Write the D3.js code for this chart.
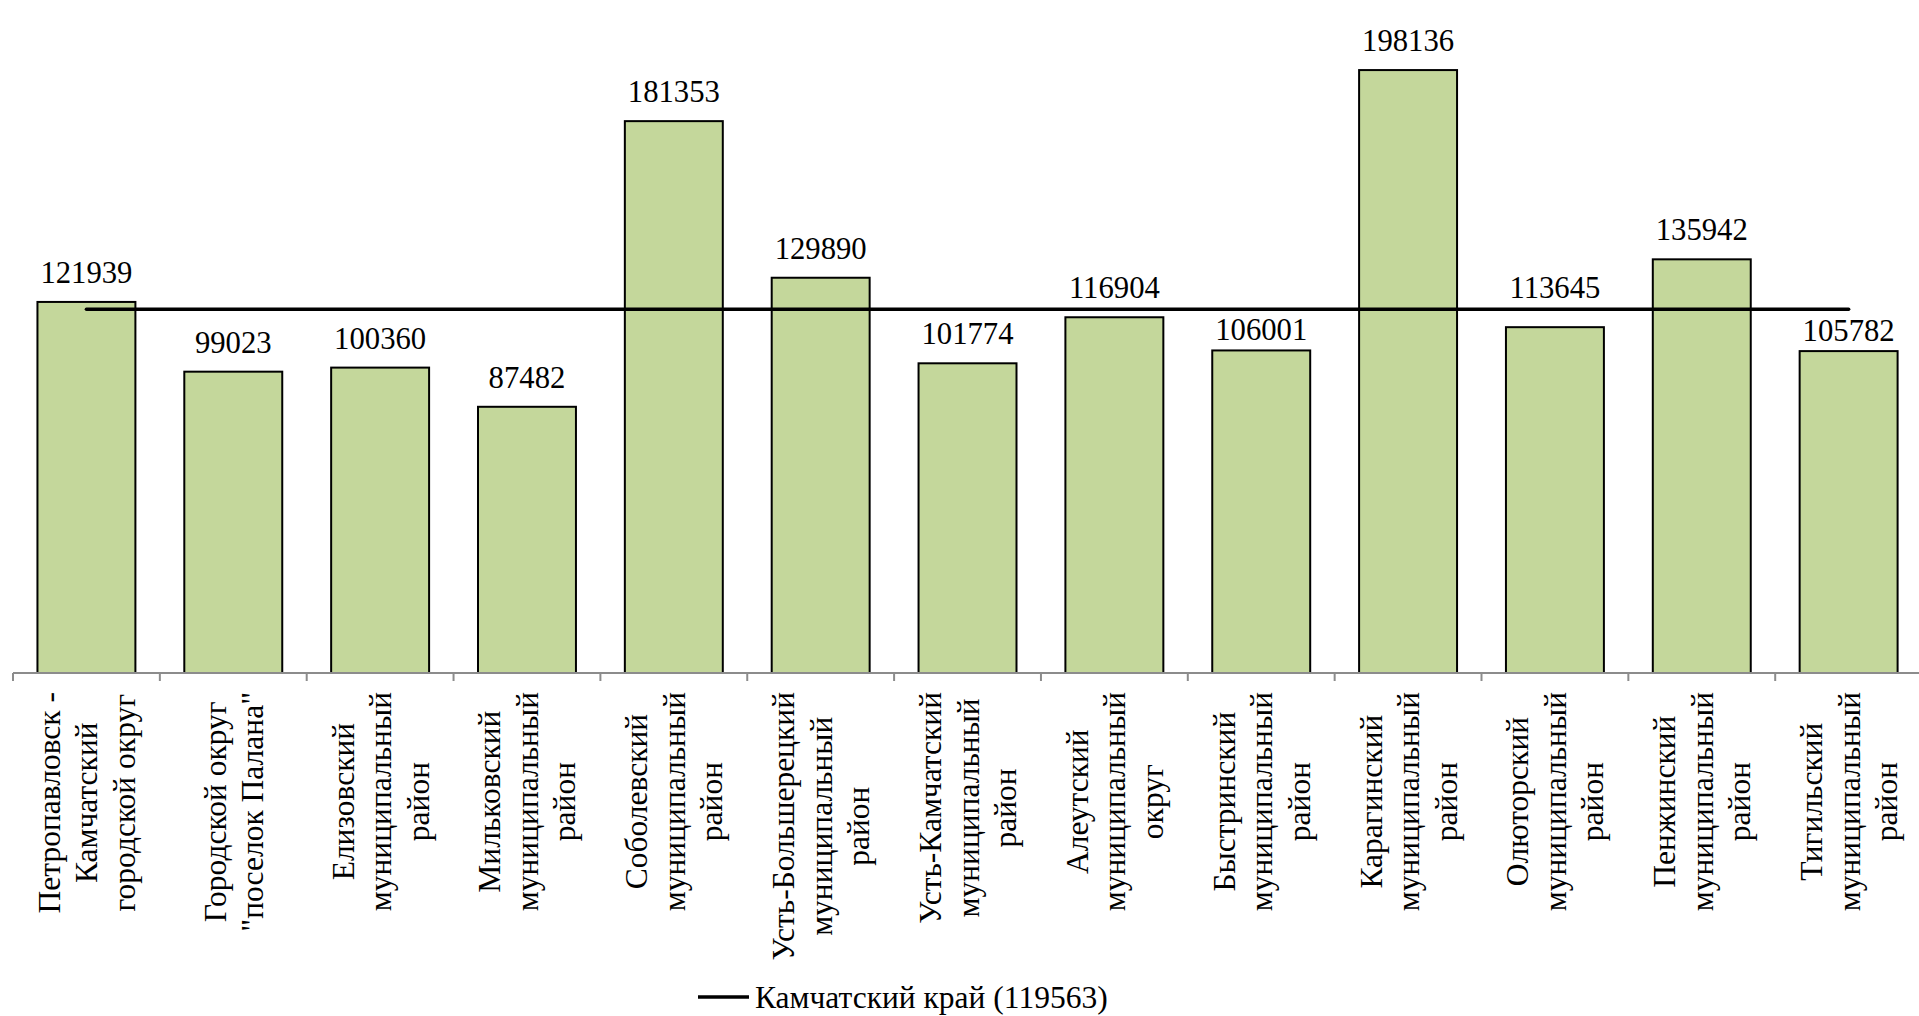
<!DOCTYPE html>
<html>
<head>
<meta charset="utf-8">
<script src="https://cdn.jsdelivr.net/npm/d3@7"></script>
<style>
  html, body { margin: 0; padding: 0; background: #fff; }
  svg { display: block; }
  text { font-family: "Liberation Serif", "Times New Roman", serif; fill: #000; }
</style>
</head>
<body>
<svg id="chart" width="1919" height="1016"></svg>
<script>
// ---- data ----
const categories = [
  ["Петропавловск -", "Камчатский", "городской округ"],
  ["Городской округ", "\"поселок Палана\""],
  ["Елизовский", "муниципальный", "район"],
  ["Мильковский", "муниципальный", "район"],
  ["Соболевский", "муниципальный", "район"],
  ["Усть-Большерецкий", "муниципальный", "район"],
  ["Усть-Камчатский", "муниципальный", "район"],
  ["Алеутский", "муниципальный", "округ"],
  ["Быстринский", "муниципальный", "район"],
  ["Карагинский", "муниципальный", "район"],
  ["Олюторский", "муниципальный", "район"],
  ["Пенжинский", "муниципальный", "район"],
  ["Тигильский", "муниципальный", "район"]
];
const values = [121939, 99023, 100360, 87482, 181353, 129890, 101774, 116904, 106001, 198136, 113645, 135942, 105782];
const regionName = "Камчатский край";
const regionValue = 119563;
const yDomain = [0, 200000];

// ---- layout ----
const svg = d3.select("#chart");
const axisY = 673;
const plotTop = 64.4;
const x0 = 13, step = 146.85;
const keys = categories.map((c, i) => i);

const x = d3.scaleBand()
  .domain(keys)
  .range([x0, x0 + step * keys.length])
  .paddingInner(0.333)
  .paddingOuter(0.1665);

const y = d3.scaleLinear().domain(yDomain).range([axisY, plotTop]);

// bars
svg.append("g").selectAll("rect")
  .data(values)
  .join("rect")
  .attr("x", (d, i) => x(i))
  .attr("y", d => y(d))
  .attr("width", x.bandwidth())
  .attr("height", d => y(0) - y(d))
  .attr("fill", "#c4d79b")
  .attr("stroke", "#000")
  .attr("stroke-width", 2);

// x axis line + ticks at band boundaries
const axisG = svg.append("g");
axisG.append("line")
  .attr("x1", x0).attr("x2", 1919)
  .attr("y1", axisY).attr("y2", axisY)
  .attr("stroke", "#8c8c8c").attr("stroke-width", 2);
const bounds = d3.range(keys.length + 1).map(i => x0 + i * x.step());
axisG.selectAll("line.tick")
  .data(bounds)
  .join("line")
  .attr("class", "tick")
  .attr("x1", d => d).attr("x2", d => d)
  .attr("y1", axisY).attr("y2", axisY + 8)
  .attr("stroke", "#8c8c8c").attr("stroke-width", 2);

// category labels (rotated, multi-line centered, block top-aligned to axis)
const catFont = 31.5;
const lineH = 37.5;
const labelTop = 692;
categories.forEach((lines, i) => {
  const cx = x(i) + x.bandwidth() / 2;
  const g = svg.append("g");
  const texts = lines.map(l => g.append("text").attr("font-size", catFont).text(l));
  const maxW = d3.max(texts, t => t.node().getComputedTextLength());
  const cy = labelTop + maxW / 2;
  const n = lines.length;
  texts.forEach((t, j) => {
    const bx = cx + (j - (n - 1) / 2) * lineH + 11;
    t.attr("text-anchor", "middle")
     .attr("transform", `translate(${bx},${cy}) rotate(-90)`);
  });
});

// average line
const lineY = y(regionValue);
svg.append("line")
  .attr("x1", x(0) + x.bandwidth() / 2)
  .attr("x2", x(keys.length - 1) + x.bandwidth() / 2)
  .attr("y1", lineY).attr("y2", lineY)
  .attr("stroke", "#000").attr("stroke-width", 3.5)
  .attr("stroke-linecap", "round");

// value labels
const valFont = 30.7;
const digitH = 20;
svg.append("g").selectAll("text")
  .data(values)
  .join("text")
  .attr("x", (d, i) => x(i) + x.bandwidth() / 2)
  .attr("y", d => {
    const top = y(d);
    let base = top - 19;
    if (top >= lineY && top - lineY < 25) {
      // bar top just under the line: lift the label above the line
      base = lineY - 11;
    } else if (base > lineY - 4 && base - digitH < lineY + 4) {
      // label would cross the line: tuck it closer to the bar
      base = top - 10;
    }
    return base;
  })
  .attr("text-anchor", "middle")
  .attr("font-size", valFont)
  .text(d => d);

// legend
const lg = svg.append("g");
lg.append("line")
  .attr("x1", 698).attr("x2", 749)
  .attr("y1", 997).attr("y2", 997)
  .attr("stroke", "#000").attr("stroke-width", 3.5);
lg.append("text")
  .attr("x", 755).attr("y", 1008)
  .attr("font-size", 31.5)
  .text(`${regionName} (${regionValue})`);
</script>
</body>
</html>
